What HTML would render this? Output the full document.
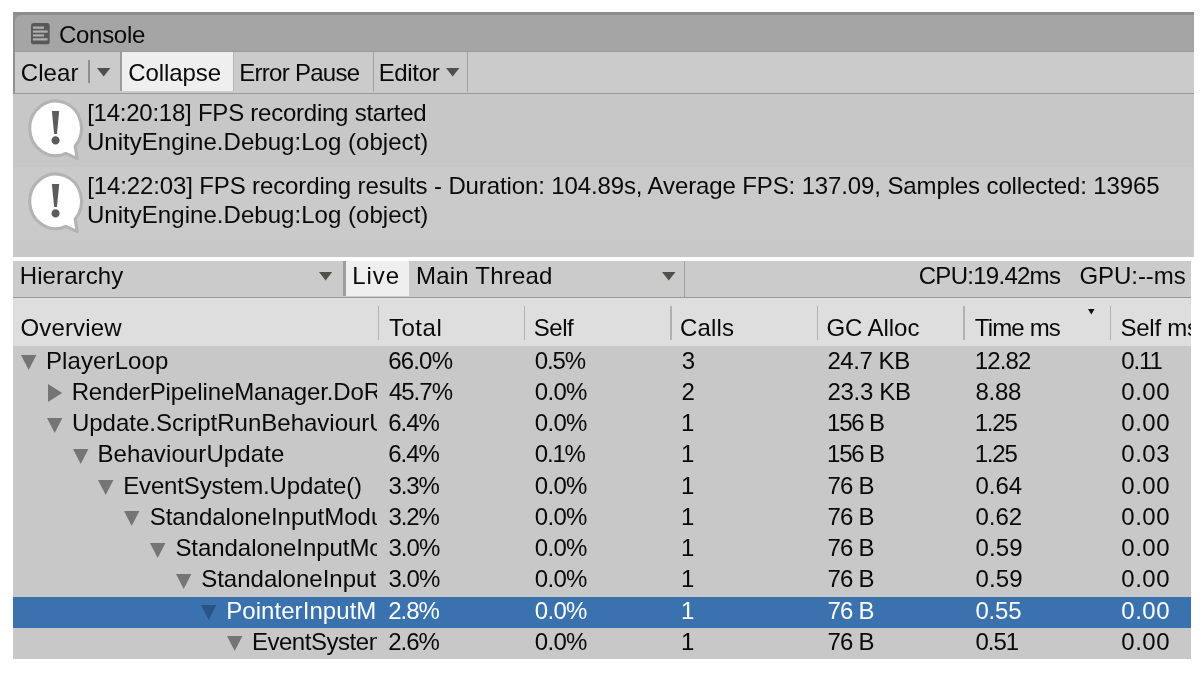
<!DOCTYPE html>
<html><head><meta charset="utf-8"><title>Console</title>
<style>
html,body{margin:0;padding:0;background:#fff;}
body{width:1204px;height:675px;position:relative;overflow:hidden;font-family:"Liberation Sans",sans-serif;font-size:24px;line-height:1;color:#090909;}
.b{position:absolute;}
.t{position:absolute;white-space:pre;line-height:1;}
.c{position:absolute;overflow:hidden;white-space:pre;}
.c .t{left:0;top:0;}
svg{position:absolute;overflow:visible;}
</style></head><body>
<div class="b" style="left:13.3px;top:12px;width:1180.5px;height:244.7px;background:#c8c8c8;"></div>
<div class="b" style="left:13.3px;top:12px;width:1180.5px;height:39.5px;background:#a5a5a5;border-top-left-radius:6px;"></div>
<div class="b" style="left:13.3px;top:12px;width:1180.5px;height:3px;background:#8d8d8d;"></div>
<div class="b" style="left:13.3px;top:15px;width:9px;height:8px;background:#939393;"></div>
<div class="b" style="left:14.8px;top:15px;width:240px;height:36.5px;background:#a5a5a5;border-top-left-radius:6.5px;"></div>
<div class="b" style="left:13.3px;top:52.2px;width:1180.5px;height:40.6px;background:#cbcbcb;"></div>
<div class="b" style="left:13.3px;top:50.8px;width:1180.5px;height:1.6px;background:#9b9b9b;"></div>
<div class="b" style="left:13.3px;top:92.6px;width:1180.5px;height:1.6px;background:#999;"></div>
<div class="b" style="left:13.3px;top:12px;width:1.5px;height:80.6px;background:#909090;"></div>
<div class="b" style="left:87.8px;top:60.2px;width:1.8px;height:23.3px;background:#8e8e8e;"></div>
<div class="b" style="left:120.2px;top:52.4px;width:1.5px;height:39px;background:#9a9a9a;"></div>
<div class="b" style="left:121.7px;top:52.4px;width:111.4px;height:39px;background:#efefef;"></div>
<div class="b" style="left:233.1px;top:52.4px;width:1px;height:39px;background:#b5b5b5;"></div>
<div class="b" style="left:372.5px;top:52.4px;width:1.2px;height:39.4px;background:#9f9f9f;"></div>
<div class="b" style="left:466.9px;top:52.4px;width:1.2px;height:39.4px;background:#9f9f9f;"></div>
<svg style="left:97.2px;top:68.2px" width="13.4" height="8.6" viewBox="0 0 13.4 8.6"><path d="M0 0H13.4L6.7 8.6Z" fill="#50504b"/></svg>
<svg style="left:445.6px;top:68.2px" width="13.4" height="8.6" viewBox="0 0 13.4 8.6"><path d="M0 0H13.4L6.7 8.6Z" fill="#50504b"/></svg>
<svg style="left:31px;top:22.7px" width="18.7" height="21.3" viewBox="0 0 18.7 21.3">
<rect x="0" y="0" width="18.7" height="21.3" rx="2.6" fill="#585858"/>
<rect x="1.9" y="3.5" width="11.1" height="2.3" fill="#aeaeae"/>
<rect x="1.9" y="7.4" width="14.7" height="2.3" fill="#aeaeae"/>
<rect x="1.9" y="11.3" width="11.1" height="2.3" fill="#aeaeae"/>
<rect x="1.9" y="15.2" width="14.7" height="2.3" fill="#aeaeae"/>
</svg>
<div class="b" style="left:13.3px;top:94.2px;width:1180.5px;height:72.5px;background:#c7c7c7;"></div>
<div class="b" style="left:13.3px;top:166.7px;width:1180.5px;height:73.3px;background:#cacaca;"></div>
<svg style="left:0;top:0px" width="100" height="170" viewBox="0 0 100 170">
<path d="M75.15 146.21A25.9 27.3 0 1 0 65.72 153.43L77.20 158.60Z" fill="#fff" stroke="#b3b3b3" stroke-width="3.1" stroke-linejoin="round"/>
<text x="55.5" y="143.7" text-anchor="middle" font-family="Liberation Serif, serif" font-weight="bold" font-size="50" fill="#5c5c5c">!</text>
</svg>
<svg style="left:0;top:73.1px" width="100" height="170" viewBox="0 0 100 170">
<path d="M75.15 146.21A25.9 27.3 0 1 0 65.72 153.43L77.20 158.60Z" fill="#fff" stroke="#b3b3b3" stroke-width="3.1" stroke-linejoin="round"/>
<text x="55.5" y="143.7" text-anchor="middle" font-family="Liberation Serif, serif" font-weight="bold" font-size="50" fill="#5c5c5c">!</text>
</svg>
<div class="b" style="left:13.3px;top:261px;width:1177.5px;height:397.7px;background:#c8c8c8;"></div>
<div class="b" style="left:13.3px;top:261px;width:1177.5px;height:36.2px;background:#cbcbcb;"></div>
<div class="b" style="left:13.3px;top:297px;width:1177.5px;height:1.2px;background:#9a9a9a;"></div>
<div class="b" style="left:13.3px;top:298.2px;width:1177.5px;height:47.9px;background:#dedede;"></div>
<svg style="left:319px;top:271.5px" width="13.2" height="8.6" viewBox="0 0 13.2 8.6"><path d="M0 0H13.2L6.6 8.6Z" fill="#50504b"/></svg>
<div class="b" style="left:342.6px;top:261px;width:3.2px;height:34.6px;background:#9d9d9d;"></div>
<div class="b" style="left:345.8px;top:261px;width:63.2px;height:34.6px;background:#efefef;"></div>
<svg style="left:661.5px;top:271.5px" width="13.5" height="8.6" viewBox="0 0 13.5 8.6"><path d="M0 0H13.5L6.75 8.6Z" fill="#50504b"/></svg>
<div class="b" style="left:684px;top:261px;width:1.2px;height:36px;background:#9f9f9f;"></div>
<div class="b" style="left:377.7px;top:306.2px;width:1.3px;height:33.5px;background:#b1b1b1;"></div>
<div class="b" style="left:524.1px;top:306.2px;width:1.3px;height:33.5px;background:#b1b1b1;"></div>
<div class="b" style="left:670.4px;top:306.2px;width:1.3px;height:33.5px;background:#b1b1b1;"></div>
<div class="b" style="left:816.7px;top:306.2px;width:1.3px;height:33.5px;background:#b1b1b1;"></div>
<div class="b" style="left:963.4px;top:306.2px;width:1.3px;height:33.5px;background:#b1b1b1;"></div>
<div class="b" style="left:1109.8px;top:306.2px;width:1.3px;height:33.5px;background:#b1b1b1;"></div>
<svg style="left:1088.2px;top:309.4px" width="6.6" height="5.4" viewBox="0 0 6.6 5.4"><path d="M0 0H6.6L3.3 5.4Z" fill="#111"/></svg>
<div class="b" style="left:13.3px;top:596.7px;width:1177.5px;height:31.05px;background:#3a72b0;"></div>
<svg style="left:21.1px;top:355.1px" width="15.4" height="15" viewBox="0 0 15.4 15"><path d="M0 0H15.4L7.7 15Z" fill="#757575"/></svg>
<svg style="left:48.05px;top:384.05px" width="14.2" height="18" viewBox="0 0 14.2 18"><path d="M0 0V18L14.2 9Z" fill="#757575"/></svg>
<svg style="left:46.85px;top:417.6px" width="15.4" height="15" viewBox="0 0 15.4 15"><path d="M0 0H15.4L7.7 15Z" fill="#757575"/></svg>
<svg style="left:72.6px;top:448.85px" width="15.4" height="15" viewBox="0 0 15.4 15"><path d="M0 0H15.4L7.7 15Z" fill="#757575"/></svg>
<svg style="left:98.35px;top:480.1px" width="15.4" height="15" viewBox="0 0 15.4 15"><path d="M0 0H15.4L7.7 15Z" fill="#757575"/></svg>
<svg style="left:124.1px;top:511.35px" width="15.4" height="15" viewBox="0 0 15.4 15"><path d="M0 0H15.4L7.7 15Z" fill="#757575"/></svg>
<svg style="left:149.85px;top:542.6px" width="15.4" height="15" viewBox="0 0 15.4 15"><path d="M0 0H15.4L7.7 15Z" fill="#757575"/></svg>
<svg style="left:175.6px;top:573.85px" width="15.4" height="15" viewBox="0 0 15.4 15"><path d="M0 0H15.4L7.7 15Z" fill="#757575"/></svg>
<svg style="left:201.35px;top:605.1px" width="15.4" height="15" viewBox="0 0 15.4 15"><path d="M0 0H15.4L7.7 15Z" fill="#2a5487"/></svg>
<svg style="left:227.1px;top:636.35px" width="15.4" height="15" viewBox="0 0 15.4 15"><path d="M0 0H15.4L7.7 15Z" fill="#757575"/></svg>
<span class="t" style="left:59.05px;top:23px;letter-spacing:-0.308px;">Console</span>
<span class="t" style="left:20.75px;top:60.6px;letter-spacing:0.087px;">Clear</span>
<span class="t" style="left:128.25px;top:60.6px;letter-spacing:-0.071px;">Collapse</span>
<span class="t" style="left:239.3px;top:60.6px;letter-spacing:-0.73px;">Error Pause</span>
<span class="t" style="left:378.7px;top:60.6px;letter-spacing:-0.35px;">Editor</span>
<span class="t" style="left:87.15px;top:101.1px;letter-spacing:-0.239px;">[14:20:18] FPS recording started</span>
<span class="t" style="left:86.95px;top:130px;letter-spacing:0.041px;">UnityEngine.Debug:Log (object)</span>
<span class="t" style="left:87.15px;top:174.1px;letter-spacing:-0.121px;">[14:22:03] FPS recording results - Duration: 104.89s, Average FPS: 137.09, Samples collected: 13965</span>
<span class="t" style="left:86.95px;top:203px;letter-spacing:0.041px;">UnityEngine.Debug:Log (object)</span>
<span class="t" style="left:19.7px;top:264.3px;letter-spacing:0.112px;">Hierarchy</span>
<span class="t" style="left:352.2px;top:264.3px;letter-spacing:0.967px;">Live</span>
<span class="t" style="left:416px;top:264.3px;letter-spacing:0.215px;">Main Thread</span>
<span class="t" style="left:918.75px;top:264.3px;letter-spacing:-0.725px;">CPU:19.42ms</span>
<span class="t" style="left:1079.45px;top:264.3px;letter-spacing:-0.057px;">GPU:--ms</span>
<span class="t" style="left:20.45px;top:316px;letter-spacing:0.15px;">Overview</span>
<span class="t" style="left:388.9px;top:316px;letter-spacing:0.55px;">Total</span>
<span class="t" style="left:533.65px;top:316px;letter-spacing:-0.417px;">Self</span>
<span class="t" style="left:680.05px;top:316px;letter-spacing:0.163px;">Calls</span>
<span class="t" style="left:826.45px;top:316px;letter-spacing:-0.057px;">GC Alloc</span>
<span class="t" style="left:974.8px;top:316px;letter-spacing:-0.842px;">Time ms</span>
<div class="c" style="left:1120.45px;top:316px;width:70.55px;height:30px;"><span class="t" style="letter-spacing:-0.25px;">Self ms</span></div>
<div class="c" style="left:45.9px;top:348.6px;width:331.4px;height:30px;"><span class="t" style="letter-spacing:0.122px;">PlayerLoop</span></div>
<span class="t" style="left:388.15px;top:348.6px;letter-spacing:-0.8px;">66.0%</span>
<span class="t" style="left:534.7px;top:348.6px;letter-spacing:-1.083px;">0.5%</span>
<span class="t" style="left:681.7px;top:348.6px;">3</span>
<span class="t" style="left:827.45px;top:348.6px;letter-spacing:-0.442px;">24.7 KB</span>
<span class="t" style="left:974.65px;top:348.6px;letter-spacing:-0.85px;">12.82</span>
<div class="c" style="left:1121.3px;top:348.6px;width:69.7px;height:30px;"><span class="t" style="letter-spacing:-1.15px;">0.11</span></div>
<div class="c" style="left:71.65px;top:379.85px;width:305.65px;height:30px;"><span class="t" style="letter-spacing:-0.115px;">RenderPipelineManager.DoRenderLoop_Internal()</span></div>
<span class="t" style="left:388.9px;top:379.85px;letter-spacing:-0.988px;">45.7%</span>
<span class="t" style="left:534.7px;top:379.85px;letter-spacing:-0.65px;">0.0%</span>
<span class="t" style="left:681.45px;top:379.85px;">2</span>
<span class="t" style="left:827.45px;top:379.85px;letter-spacing:-0.292px;">23.3 KB</span>
<span class="t" style="left:975.4px;top:379.85px;letter-spacing:-0.217px;">8.88</span>
<div class="c" style="left:1121.3px;top:379.85px;width:69.7px;height:30px;"><span class="t" style="letter-spacing:0.517px;">0.00</span></div>
<div class="c" style="left:71.9px;top:411.1px;width:305.4px;height:30px;"><span class="t" style="letter-spacing:-0.002px;">Update.ScriptRunBehaviourUpdate</span></div>
<span class="t" style="left:388.15px;top:411.1px;letter-spacing:-1px;">6.4%</span>
<span class="t" style="left:534.7px;top:411.1px;letter-spacing:-0.65px;">0.0%</span>
<span class="t" style="left:680.95px;top:411.1px;">1</span>
<span class="t" style="left:826.95px;top:411.1px;letter-spacing:-1.15px;">156 B</span>
<span class="t" style="left:974.65px;top:411.1px;letter-spacing:-1.15px;">1.25</span>
<div class="c" style="left:1121.3px;top:411.1px;width:69.7px;height:30px;"><span class="t" style="letter-spacing:0.517px;">0.00</span></div>
<div class="c" style="left:97.4px;top:442.35px;width:279.9px;height:30px;"><span class="t" style="letter-spacing:0.107px;">BehaviourUpdate</span></div>
<span class="t" style="left:388.15px;top:442.35px;letter-spacing:-1px;">6.4%</span>
<span class="t" style="left:534.7px;top:442.35px;letter-spacing:-1.15px;">0.1%</span>
<span class="t" style="left:680.95px;top:442.35px;">1</span>
<span class="t" style="left:826.95px;top:442.35px;letter-spacing:-1.15px;">156 B</span>
<span class="t" style="left:974.65px;top:442.35px;letter-spacing:-1.15px;">1.25</span>
<div class="c" style="left:1121.3px;top:442.35px;width:69.7px;height:30px;"><span class="t" style="letter-spacing:0.517px;">0.03</span></div>
<div class="c" style="left:123.15px;top:473.6px;width:254.15px;height:30px;"><span class="t" style="letter-spacing:-0.132px;">EventSystem.Update()</span></div>
<span class="t" style="left:388.4px;top:473.6px;letter-spacing:-1.083px;">3.3%</span>
<span class="t" style="left:534.7px;top:473.6px;letter-spacing:-0.65px;">0.0%</span>
<span class="t" style="left:680.95px;top:473.6px;">1</span>
<span class="t" style="left:827.45px;top:473.6px;letter-spacing:-0.75px;">76 B</span>
<span class="t" style="left:975.4px;top:473.6px;letter-spacing:0.033px;">0.64</span>
<div class="c" style="left:1121.3px;top:473.6px;width:69.7px;height:30px;"><span class="t" style="letter-spacing:0.517px;">0.00</span></div>
<div class="c" style="left:149.65px;top:504.85px;width:227.65px;height:30px;"><span class="t" style="letter-spacing:-0.015px;">StandaloneInputModule.Process()</span></div>
<span class="t" style="left:388.4px;top:504.85px;letter-spacing:-1.083px;">3.2%</span>
<span class="t" style="left:534.7px;top:504.85px;letter-spacing:-0.65px;">0.0%</span>
<span class="t" style="left:680.95px;top:504.85px;">1</span>
<span class="t" style="left:827.45px;top:504.85px;letter-spacing:-0.75px;">76 B</span>
<span class="t" style="left:975.4px;top:504.85px;letter-spacing:0.033px;">0.62</span>
<div class="c" style="left:1121.3px;top:504.85px;width:69.7px;height:30px;"><span class="t" style="letter-spacing:0.517px;">0.00</span></div>
<div class="c" style="left:175.4px;top:536.1px;width:201.9px;height:30px;"><span class="t" style="letter-spacing:-0.053px;">StandaloneInputModule.ProcessMouseEvent()</span></div>
<span class="t" style="left:388.4px;top:536.1px;letter-spacing:-0.917px;">3.0%</span>
<span class="t" style="left:534.7px;top:536.1px;letter-spacing:-0.65px;">0.0%</span>
<span class="t" style="left:680.95px;top:536.1px;">1</span>
<span class="t" style="left:827.45px;top:536.1px;letter-spacing:-0.75px;">76 B</span>
<span class="t" style="left:975.4px;top:536.1px;letter-spacing:0.167px;">0.59</span>
<div class="c" style="left:1121.3px;top:536.1px;width:69.7px;height:30px;"><span class="t" style="letter-spacing:0.517px;">0.00</span></div>
<div class="c" style="left:201.15px;top:567.35px;width:176.15px;height:30px;"><span class="t" style="letter-spacing:0.007px;">StandaloneInputModule.ProcessMouseEvent()</span></div>
<span class="t" style="left:388.4px;top:567.35px;letter-spacing:-0.917px;">3.0%</span>
<span class="t" style="left:534.7px;top:567.35px;letter-spacing:-0.65px;">0.0%</span>
<span class="t" style="left:680.95px;top:567.35px;">1</span>
<span class="t" style="left:827.45px;top:567.35px;letter-spacing:-0.75px;">76 B</span>
<span class="t" style="left:975.4px;top:567.35px;letter-spacing:0.167px;">0.59</span>
<div class="c" style="left:1121.3px;top:567.35px;width:69.7px;height:30px;"><span class="t" style="letter-spacing:0.517px;">0.00</span></div>
<div class="c" style="left:226.15px;top:598.6px;width:151.15px;height:30px;"><span class="t" style="letter-spacing:0.067px;color:#fff;">PointerInputModule.GetMousePointerEventData()</span></div>
<span class="t" style="left:388.15px;top:598.6px;letter-spacing:-1px;color:#fff;">2.8%</span>
<span class="t" style="left:534.7px;top:598.6px;letter-spacing:-0.65px;color:#fff;">0.0%</span>
<span class="t" style="left:680.95px;top:598.6px;color:#fff;">1</span>
<span class="t" style="left:827.45px;top:598.6px;letter-spacing:-0.75px;color:#fff;">76 B</span>
<span class="t" style="left:975.4px;top:598.6px;letter-spacing:-0.183px;color:#fff;">0.55</span>
<div class="c" style="left:1121.3px;top:598.6px;width:69.7px;height:30px;"><span class="t" style="letter-spacing:0.517px;color:#fff;">0.00</span></div>
<div class="c" style="left:251.9px;top:629.85px;width:125.4px;height:30px;"><span class="t" style="letter-spacing:-0.461px;">EventSystem.RaycastAll()</span></div>
<span class="t" style="left:388.15px;top:629.85px;letter-spacing:-1px;">2.6%</span>
<span class="t" style="left:534.7px;top:629.85px;letter-spacing:-0.65px;">0.0%</span>
<span class="t" style="left:680.95px;top:629.85px;">1</span>
<span class="t" style="left:827.45px;top:629.85px;letter-spacing:-0.75px;">76 B</span>
<span class="t" style="left:975.4px;top:629.85px;letter-spacing:-1px;">0.51</span>
<div class="c" style="left:1121.3px;top:629.85px;width:69.7px;height:30px;"><span class="t" style="letter-spacing:0.517px;">0.00</span></div>
</body></html>
